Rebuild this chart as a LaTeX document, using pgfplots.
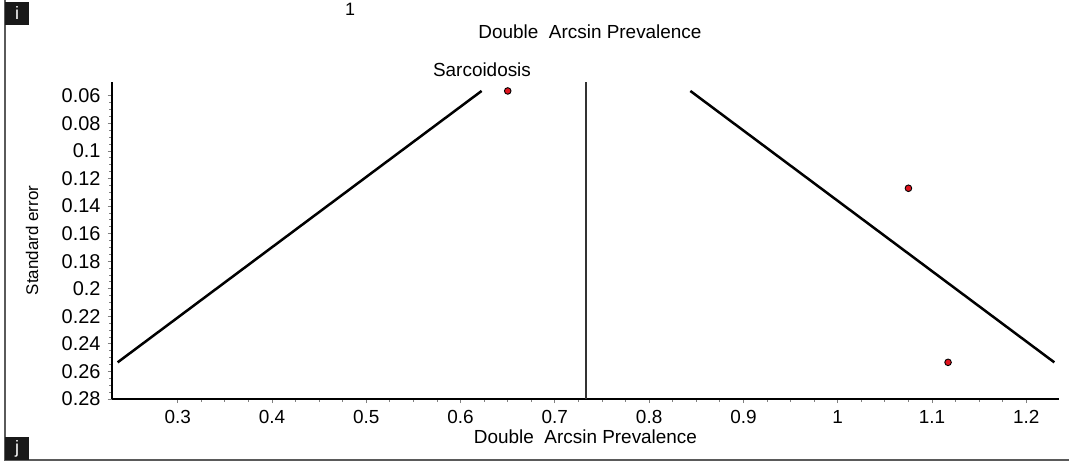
\documentclass[border=0pt]{standalone}
\usepackage{fontspec}
\setmainfont{Liberation Sans}
\usepackage{pgfplots}
\pgfplotsset{compat=1.18}
\definecolor{frame}{RGB}{90,90,90}
\definecolor{dotred}{RGB}{225,20,30}
\begin{document}
\begin{tikzpicture}
\useasboundingbox (0,0) rectangle (1069bp,466bp);
% panel frame
\draw[frame, line width=1.6bp] (5bp,466bp) -- (5bp,6bp) -- (1069bp,6bp);
\fill[black!90] (5bp,441bp) rectangle (29bp,464bp);
\node[white, font=\fontsize{18}{21}\selectfont] at (17bp,452.5bp) {i};
\fill[black!90] (5bp,6bp) rectangle (29bp,29bp);
\node[white, font=\fontsize{18}{21}\selectfont] at (17bp,17.5bp) {j};
% texts above
\node[font=\fontsize{18}{21}\selectfont] at (350bp,457bp) {1};
\node[font=\fontsize{19}{22}\selectfont] at (590bp,434bp) {Double\ \ Arcsin Prevalence};
\node[font=\fontsize{19}{22}\selectfont] at (482bp,396bp) {Sarcoidosis};
\begin{axis}[
  at={(111.7bp,67bp)}, anchor=south west,
  scale only axis, width=947.6bp, height=317bp,
  xmin=0.23, xmax=1.235, ymin=0.05, ymax=0.28,
  y dir=reverse,
  axis x line*=bottom, axis y line*=left,
  axis line style={-, line width=2.4bp, black},
  xtick={0.3,0.4,0.5,0.6,0.7,0.8,0.9,1,1.1,1.2},
  ytick={0.06,0.08,0.1,0.12,0.14,0.16,0.18,0.2,0.22,0.24,0.26,0.28},
  minor x tick num=3, minor y tick num=3,
  tick align=outside,
  major tick length=4bp, minor tick length=2.5bp,
  every tick/.style={gray, line width=0.8bp},
  scaled ticks=false,
  /pgf/number format/fixed, /pgf/number format/precision=2,
  /pgf/number format/assume math mode=true,
  xticklabel style={font=\fontsize{19}{22}\selectfont, inner sep=2bp, yshift=-5bp},
  yticklabel style={font=\fontsize{20}{23}\selectfont, inner sep=2bp, xshift=-5bp},
  xlabel={Double\ \ Arcsin Prevalence},
  ylabel={Standard error},
  xlabel style={font=\fontsize{19}{22}\selectfont, inner sep=0pt, yshift=-4bp},
  ylabel style={font=\fontsize{17}{20}\selectfont, yshift=18bp},
  clip=false,
]
% center line
\addplot[draw=black!80, line width=1.3bp] coordinates {(0.733,0.05) (0.733,0.28)};
% funnel limits
\addplot[black, line width=2.5bp] coordinates {(0.6223,0.0565) (0.2363,0.2534)};
\addplot[black, line width=2.5bp] coordinates {(0.8437,0.0565) (1.2297,0.2534)};
% studies
\addplot[only marks, mark=*, mark size=3.3bp, mark options={fill=dotred, draw=black, line width=0.9bp}] coordinates {
  (0.650,0.0565) (1.075,0.1271) (1.117,0.2534)};
\end{axis}
\end{tikzpicture}
\end{document}
